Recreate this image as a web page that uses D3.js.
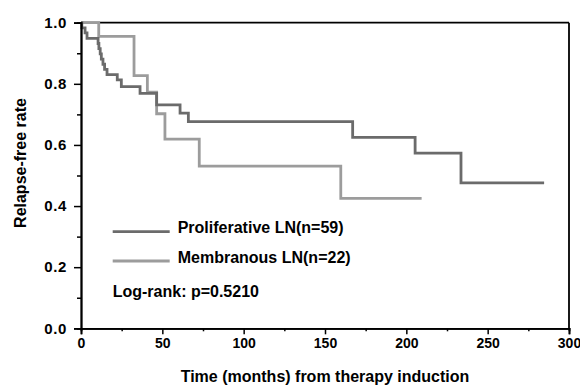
<!DOCTYPE html>
<html>
<head>
<meta charset="utf-8">
<script src="https://cdn.jsdelivr.net/npm/d3@7"></script>
<style>
  body { margin: 0; background: #fff; }
  svg { display: block; font-family: "Liberation Sans", Arial, sans-serif; }
  .tick text { font-weight: bold; font-size: 14px; fill: #000; }
  .y-axis .tick text { font-size: 15px; letter-spacing: 0.6px; }
</style>
</head>
<body>
<div id="chart"></div>
<script>
// Kaplan-Meier steps (time in months, relapse-free rate)
const proliferativeTimes = [0, 0.5, 2.5, 3.7, 10.5, 11, 11.8, 12.5, 13.5, 14.5, 16, 22.3, 24.8, 36.3, 46.5, 60.9, 66, 167, 205.4, 233.6, 284.7];
const proliferativeRates = [1, 0.983, 0.967, 0.949, 0.932, 0.915, 0.898, 0.881, 0.864, 0.847, 0.830, 0.813, 0.791, 0.769, 0.731, 0.704, 0.676, 0.625, 0.573, 0.476, 0.476];

const membranousTimes = [0, 10.9, 32.6, 40.8, 46.5, 51.6, 72.7, 159.7, 209.4];
const membranousRates = [1, 0.955, 0.827, 0.773, 0.702, 0.619, 0.531, 0.425, 0.425];

const xTicks = [0, 50, 100, 150, 200, 250, 300];
const xMinorTicks = [25, 75, 125, 175, 225, 275];
const yTicks = [0, 0.2, 0.4, 0.6, 0.8, 1.0];
const yMinorTicks = [0.1, 0.3, 0.5, 0.7, 0.9];

const seriesNames = ['Proliferative LN(n=59)', 'Membranous LN(n=22)'];
const pValueText = 'Log-rank: p=0.5210';

const W = 580, H = 387;
const margin = {top: 22.7, right: 11, bottom: 58.7, left: 81};
const width = W - margin.left - margin.right;
const height = H - margin.top - margin.bottom;

const svg = d3.select('#chart').append('svg')
    .attr('width', W)
    .attr('height', H);

const chart = svg.append('g')
    .attr('transform', 'translate(' + margin.left + ',' + margin.top + ')');

const xScale = d3.scaleLinear().domain([0, 300]).range([0, width]);
const yScale = d3.scaleLinear().domain([0, 1]).range([height, 0]);

const series = [
    {name: seriesNames[0], color: '#6b6b6b', values: proliferativeTimes.map((t, i) => ({t: t, s: proliferativeRates[i]}))},
    {name: seriesNames[1], color: '#9c9c9c', values: membranousTimes.map((t, i) => ({t: t, s: membranousRates[i]}))}
];

// -- frame (top and right)
chart.append('line')
    .attr('x1', 0).attr('x2', width).attr('y1', 0).attr('y2', 0)
    .attr('stroke', '#000').attr('stroke-width', 1.8);
chart.append('line')
    .attr('x1', width).attr('x2', width).attr('y1', 0).attr('y2', height)
    .attr('stroke', '#000').attr('stroke-width', 1.8);

// -- curves
const stepLine = d3.line()
    .x(d => xScale(d.t))
    .y(d => yScale(d.s))
    .curve(d3.curveStepAfter);

// draw membranous first so proliferative sits on top
chart.append('g').attr('class', 'lines')
    .selectAll('path')
    .data(series.slice().reverse()).enter()
    .append('path')
    .attr('d', d => stepLine(d.values))
    .attr('stroke', d => d.color)
    .style('stroke-width', 2.8)
    .style('fill', 'none');

// -- axes
const x_axis = d3.axisBottom(xScale)
    .tickValues(xTicks)
    .tickSize(6)
    .tickPadding(4)
    .tickFormat(d3.format('d'));
const x_minor = d3.axisBottom(xScale)
    .tickValues(xMinorTicks)
    .tickSize(3)
    .tickFormat('');

const y_axis = d3.axisLeft(yScale)
    .tickValues(yTicks)
    .tickSize(7)
    .tickPadding(7)
    .tickFormat(d3.format('.1f'));
const y_minor = d3.axisLeft(yScale)
    .tickValues(yMinorTicks)
    .tickSize(4)
    .tickFormat('');

[x_axis, x_minor].forEach(ax => {
    chart.append('g')
        .attr('class', 'x-axis')
        .attr('transform', 'translate(0,' + height + ')')
        .call(ax);
});
[y_axis, y_minor].forEach(ax => {
    chart.append('g')
        .attr('class', 'y-axis')
        .call(ax);
});

chart.selectAll('.domain').attr('stroke', '#000').attr('stroke-width', 1.8);
chart.selectAll('.tick line').attr('stroke', '#000').attr('stroke-width', 1.5);

// -- axis titles
svg.append('text')
    .attr('x', margin.left + width / 2)
    .attr('y', 381.5)
    .attr('text-anchor', 'middle')
    .style('font-size', '16px')
    .style('font-weight', 'bold')
    .text('Time (months) from therapy induction');

svg.append('text')
    .attr('transform', 'translate(26,163) rotate(-90)')
    .attr('text-anchor', 'middle')
    .style('font-size', '16px')
    .style('font-weight', 'bold')
    .text('Relapse-free rate');

// -- legend
const legend = svg.append('g').attr('class', 'legend');
const legendRows = legend.selectAll('g')
    .data(series).enter()
    .append('g')
    .attr('transform', (d, i) => 'translate(112.7,' + (231.7 + i * 29.3) + ')');

legendRows.append('line')
    .attr('x1', 0).attr('x2', 57)
    .attr('stroke', d => d.color)
    .attr('stroke-width', 2.8);

legendRows.append('text')
    .attr('x', 65)
    .attr('y', 1.5)
    .style('font-size', '16px')
    .style('font-weight', 'bold')
    .text(d => d.name);

legend.append('text')
    .attr('x', 112.7)
    .attr('y', 297)
    .style('font-size', '16px')
    .style('font-weight', 'bold')
    .text(pValueText);
</script>
</body>
</html>
